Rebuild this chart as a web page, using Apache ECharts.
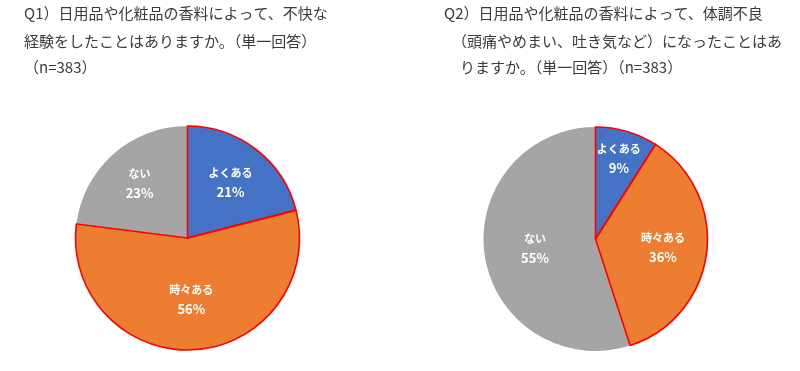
<!DOCTYPE html>
<html><head><meta charset="utf-8">
<script src="https://cdn.jsdelivr.net/npm/echarts@6/dist/echarts.min.js"></script>
<style>html,body{margin:0;padding:0;background:#fff}#c{width:800px;height:371px}</style>
</head><body><div id="c"></div>
<script>
const categories = ['よくある', '時々ある', 'ない'];
const q1Values = [21, 56, 23];
const q2Values = [9, 36, 55];
const q1TitleLines = ['Q1）日用品や化粧品の香料によって、不快な', '経験をしたことはありますか。（単一回答）', '（n=383）'];
const q2TitleLines = ['Q2）日用品や化粧品の香料によって、体調不良', '（頭痛やめまい、吐き気など）になったことはあ', 'りますか。（単一回答）（n=383）'];

const colors = ['#4472C4', '#ED7D31', '#A5A5A5'];
const outlined = [true, true, false];
const R = 112;
const q1LabelK = [0.60, 0.52, 0.62];
const q2LabelK = [0.72, 0.58, 0.52];
const FONT = '"Noto Sans CJK JP", "Noto Sans", sans-serif';

function buildPie(values, center, labelK) {
  const total = values.reduce((a, b) => a + b, 0);
  let cum = 0;
  const data = values.map((v, i) => {
    const mid = (cum + v / 2) / total * 2 * Math.PI;
    cum += v;
    const d = (labelK[i] - 0.5) * R;
    return {
      name: categories[i], value: v,
      itemStyle: { color: colors[i] },
      label: { offset: [d * Math.sin(mid), -d * Math.cos(mid)] }
    };
  });
  const borderData = values.map((v, i) => ({
    name: categories[i], value: v,
    itemStyle: { color: 'rgba(0,0,0,0)', borderColor: outlined[i] ? '#FF0000' : 'rgba(0,0,0,0)', borderWidth: outlined[i] ? 1.6 : 0 }
  }));
  return [{
    type: 'pie', center: center, radius: R, startAngle: 90, clockwise: true,
    animation: false, silent: true,
    itemStyle: { borderWidth: 0 },
    label: {
      show: true, position: 'inside', formatter: '{n|{b}}\n{p|{c}%}',
      color: '#fff', fontFamily: FONT,
      rich: {
        n: { fontSize: 11, fontWeight: 'bold', color: '#fff', fontFamily: FONT, lineHeight: 19 },
        p: { fontSize: 13, fontWeight: 'bold', color: '#fff', fontFamily: FONT, lineHeight: 19 }
      }
    },
    labelLine: { show: false },
    data: data
  }, {
    type: 'pie', center: center, radius: R, startAngle: 90, clockwise: true,
    animation: false, silent: true, z: 3,
    label: { show: false }, labelLine: { show: false },
    data: borderData
  }];
}

const titleStyle = { fontSize: 15, fontWeight: 'normal', color: '#3a3a3a', fontFamily: FONT };
const titles = [];
const q1Left = [24, 24, 24];
const q2Left = [444, 452, 460];
const tops = [6, 34, 60];
q1TitleLines.forEach((t, i) => titles.push({ text: t, left: q1Left[i], top: tops[i], padding: 0, textStyle: titleStyle }));
q2TitleLines.forEach((t, i) => titles.push({ text: t, left: q2Left[i], top: tops[i], padding: 0, textStyle: titleStyle }));

const chart = echarts.init(document.getElementById('c'), null, { renderer: 'canvas' });
chart.setOption({
  backgroundColor: '#fff',
  animation: false,
  title: titles,
  series: [].concat(buildPie(q1Values, [187.5, 238], q1LabelK), buildPie(q2Values, [595.5, 239], q2LabelK))
});
</script></body></html>
